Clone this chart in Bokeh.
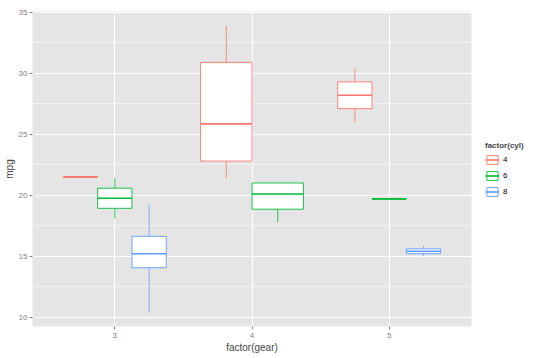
from bokeh.plotting import figure
from bokeh.models import (ColumnDataSource, FixedTicker, SingleIntervalTicker,
                          Legend, LegendItem)
from bokeh.embed import file_html
from bokeh.resources import INLINE

# ---- data (five-number summaries) ----
gear = [3, 3, 3, 4, 4, 5, 5, 5]
cyl = ["4", "6", "8", "4", "6", "4", "6", "8"]
lower = [21.5, 18.1, 10.4, 21.4, 17.8, 26.0, 19.7, 15.0]
q1 = [21.5, 18.925, 14.05, 22.8, 18.85, 27.1, 19.7, 15.2]
median = [21.5, 19.75, 15.2, 25.85, 20.1, 28.2, 19.7, 15.4]
q3 = [21.5, 20.575, 16.625, 30.9, 21.0, 29.3, 19.7, 15.6]
upper = [21.5, 21.4, 19.2, 33.9, 21.0, 30.4, 19.7, 15.8]
gear_levels = [3, 4, 5]
cyl_levels = ["4", "6", "8"]
cyl_colors = ["#F8766D", "#00BA38", "#619CFF"]

# ---- dodge positions ----
dodge_total = 0.75
n_per_gear = {g: gear.count(g) for g in gear_levels}
idx_in_gear = []
seen = {}
for g in gear:
    seen[g] = seen.get(g, -1) + 1
    idx_in_gear.append(seen[g])
xc, xl, xr = [], [], []
for g, i in zip(gear, idx_in_gear):
    w = dodge_total / n_per_gear[g]
    c = g - dodge_total / 2 + w * (i + 0.5)
    xc.append(c)
    xl.append(c - w / 2)
    xr.append(c + w / 2)

p = figure(frame_width=439, frame_height=315, output_backend="svg",
           toolbar_location=None,
           x_range=(2.4, 5.6), y_range=(9.225, 35.075),
           background_fill_color="#E5E5E5", border_fill_color="white",
           min_border_left=20, min_border_top=11, min_border_bottom=2,
           min_border_right=2)
p.outline_line_color = None

# grids
p.xaxis.ticker = FixedTicker(ticks=gear_levels)
p.xaxis.major_label_overrides = {g: str(g) for g in gear_levels}
p.yaxis.ticker = SingleIntervalTicker(interval=5, num_minor_ticks=2)
p.xgrid.grid_line_color = "white"
p.xgrid.grid_line_width = 1.2
p.ygrid.grid_line_color = "white"
p.ygrid.grid_line_width = 1.2
p.ygrid.minor_grid_line_color = "#F2F2F2"
p.ygrid.minor_grid_line_width = 1.0

for ax in (p.xaxis[0], p.yaxis[0]):
    ax.axis_line_color = None
    ax.major_tick_line_color = "#7F7F7F"
    ax.major_tick_in = 0
    ax.major_tick_out = 3
    ax.minor_tick_line_color = None
    ax.major_label_text_color = "#7F7F7F"
    ax.major_label_text_font = "Liberation Sans"
    ax.major_label_text_font_size = "8px"
    ax.major_label_standoff = 1
    ax.axis_label_text_font = "Liberation Sans"
    ax.axis_label_text_font_size = "10px"
    ax.axis_label_text_font_style = "normal"
    ax.axis_label_standoff = 1
p.xaxis.axis_label = "factor(gear)"
p.yaxis.axis_label = "mpg"
p.xaxis.major_label_standoff = 3
p.xaxis.axis_label_standoff = 1

items = []
for cl, col in zip(cyl_levels, cyl_colors):
    sel = [k for k, c in enumerate(cyl) if c == cl]
    src = ColumnDataSource(dict(
        x=[xc[k] for k in sel], left=[xl[k] for k in sel], right=[xr[k] for k in sel],
        lower=[lower[k] for k in sel], q1=[q1[k] for k in sel],
        med=[median[k] for k in sel], q3=[q3[k] for k in sel],
        upper=[upper[k] for k in sel]))
    p.segment(x0="x", y0="lower", x1="x", y1="q1", source=src,
              line_color=col, line_width=0.8)
    p.segment(x0="x", y0="q3", x1="x", y1="upper", source=src,
              line_color=col, line_width=0.8)
    box = p.quad(left="left", right="right", bottom="q1", top="q3", source=src,
                 fill_color="white", line_color=col, line_width=0.9)
    med = p.segment(x0="left", y0="med", x1="right", y1="med", source=src,
                    line_color=col, line_width=1.6)
    items.append(LegendItem(label=cl, renderers=[box, med]))

legend = Legend(items=items, title="factor(cyl)",
                title_text_font="Liberation Sans", title_text_font_size="8px",
                title_text_font_style="bold", title_standoff=4,
                label_text_font="Liberation Sans", label_text_font_size="8px",
                label_text_color="black", label_standoff=4,
                glyph_width=14, glyph_height=11, label_height=11,
                spacing=5, padding=3, margin=14,
                border_line_color=None, background_fill_color="white",
                location="center_left")
p.add_layout(legend, "right")

open("out.html", "w").write(file_html(p, INLINE))
